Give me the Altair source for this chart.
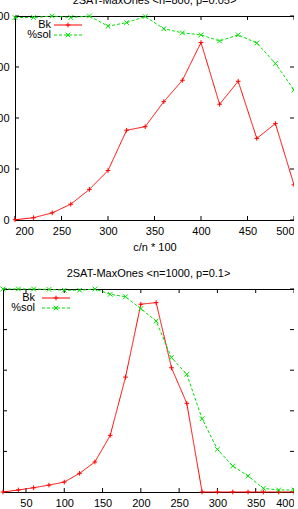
import altair as alt
import pandas as pd

FONT = "Liberation Sans"
SERIES = ["Bk", "%sol"]
COLORS = ["#ff0000", "#00e000"]

# ---- top panel ----
TOP_TITLE = "2SAT-MaxOnes <n=800, p=0.05>"
TOP_XTITLE = "c/n * 100"
TOP_X = [200, 220, 240, 260, 280, 300, 320, 340, 360, 380, 400, 420, 440, 460, 480, 500]
TOP_BK = [0.5, 4.5, 14, 31, 60, 97, 176, 183, 232, 274, 348, 227, 272, 160, 189, 69]
TOP_SOL = [397, 397, 400, 397, 400, 380, 387, 399, 375, 367, 363, 351, 363, 347, 307, 255]
TOP_XTICKS = [200, 250, 300, 350, 400, 450, 500]
TOP_YTICKS = [0, 100, 200, 300, 400]
TOP_XDOM = [200, 500]
TOP_YDOM = [0, 400]

# ---- bottom panel ----
BOT_TITLE = "2SAT-MaxOnes <n=1000, p=0.1>"
BOT_X = [20, 40, 60, 80, 100, 120, 140, 160, 180, 200, 220, 240, 260, 280, 300, 320, 340, 360, 380, 400]
BOT_BK = [0, 1, 2.1, 3.4, 4.9, 9.2, 14.8, 27.9, 56.6, 92.5, 93.3, 61.2, 43.7, 0, 0, 0, 0, 0, 0, 0]
BOT_SOL = [100, 100, 100, 99.8, 99.4, 99.4, 100, 97.4, 96.2, 90.3, 84.2, 66.2, 58, 36.1, 21, 12.8, 7.9, 1.8, 1, 1]
BOT_XTICKS = [50, 100, 150, 200, 250, 300, 350, 400]
BOT_YTICKS = [0, 20, 40, 60, 80, 100]
BOT_XDOM = [20, 400]
BOT_YDOM = [0, 100]

PLUS = "M-1,0L1,0M0,-1L0,1"
CROSS = "M-1,-1L1,1M-1,1L1,-1"
SHAPES = [PLUS, CROSS]
DASHES = [[1, 0], [3, 2]]
TICK = 4


def panel(title, xtitle, xs, bk, sol, xticks, yticks, xdom, ydom, W, H, leg_right):
    xaxis = alt.Axis(values=xticks, ticks=False, tickSize=0, domain=False, grid=False,
                     labelPadding=5.5, labelFontSize=11, labelFont=FONT, labelColor="#000",
                     title=xtitle, titleFontSize=11, titleFont=FONT, titleFontWeight="normal",
                     titlePadding=5, titleColor="#000")
    yaxis = alt.Axis(values=yticks, ticks=False, tickSize=0, domain=False, grid=False,
                     labelPadding=6, labelFontSize=11, labelFont=FONT, labelColor="#000",
                     title=None)
    X = alt.X("x:Q", scale=alt.Scale(domain=xdom, nice=False, zero=False), axis=xaxis)
    Y = alt.Y("v:Q", scale=alt.Scale(domain=ydom, nice=False, zero=False), axis=yaxis)

    xt = pd.DataFrame({"x": xticks})
    yt = pd.DataFrame({"v": yticks})
    layers = [
        alt.Chart(xt).mark_rule(color="#000", strokeWidth=1).encode(x=X, y=alt.value(0), y2=alt.value(TICK)),
        alt.Chart(xt).mark_rule(color="#000", strokeWidth=1).encode(x=X, y=alt.value(H), y2=alt.value(H - TICK)),
        alt.Chart(yt).mark_rule(color="#000", strokeWidth=1).encode(y=Y, x=alt.value(0), x2=alt.value(TICK)),
        alt.Chart(yt).mark_rule(color="#000", strokeWidth=1).encode(y=Y, x=alt.value(W), x2=alt.value(W - TICK)),
    ]
    for i, vals in enumerate([bk, sol]):
        df = pd.DataFrame({"x": xs, "v": vals})
        layers.append(alt.Chart(df).mark_line(color=COLORS[i], strokeWidth=1, strokeDash=DASHES[i]).encode(x=X, y=Y))
        layers.append(alt.Chart(df).mark_point(shape=SHAPES[i], size=22, color=COLORS[i], filled=False,
                                               strokeWidth=1, opacity=1).encode(x=X, y=Y))
    rows = [9, 19]
    for i, name in enumerate(SERIES):
        ld = pd.DataFrame({"s": [name]})
        layers.append(alt.Chart(ld).mark_text(align="right", baseline="middle", font=FONT, fontSize=11,
                                              color="#000").encode(text=alt.Text("s:N"), x=alt.value(leg_right), y=alt.value(rows[i])))
        layers.append(alt.Chart(ld).mark_rule(color=COLORS[i], strokeWidth=1, strokeDash=DASHES[i]).encode(
            x=alt.value(39), x2=alt.value(67), y=alt.value(rows[i])))
        layers.append(alt.Chart(ld).mark_point(shape=SHAPES[i], size=22, color=COLORS[i], filled=False,
                                               strokeWidth=1, opacity=1).encode(x=alt.value(53), y=alt.value(rows[i])))
    return alt.layer(*layers).properties(
        width=W, height=H,
        title=alt.TitleParams(title, font=FONT, fontSize=11, fontWeight="normal", color="#000",
                              anchor="middle", frame="group", offset=4),
    )


top = panel(TOP_TITLE, TOP_XTITLE, TOP_X, TOP_BK, TOP_SOL, TOP_XTICKS, TOP_YTICKS, TOP_XDOM, TOP_YDOM,
            279, 204, 36)
bot = panel(BOT_TITLE, None, BOT_X, BOT_BK, BOT_SOL, BOT_XTICKS, BOT_YTICKS, BOT_XDOM, BOT_YDOM,
            291, 203, 32)

# invisible 1-px spacer that lets the top panel sit further right than the bottom one
spacer = alt.Chart(pd.DataFrame({"s": [0]})).mark_point(size=1, opacity=0).encode(
    x=alt.value(0), y=alt.value(0)
).properties(width=1, height=204, view=alt.ViewBackground(strokeOpacity=0))

top_row = alt.hconcat(spacer, top, spacing=-14)

chart = alt.vconcat(top_row, bot, spacing=14).properties(
    padding={"left": -22, "top": -6, "right": -5, "bottom": 0},
    background="white",
).configure_view(stroke="#000", strokeWidth=1)

chart.save("out.html", embed_options={"renderer": "svg", "actions": False})
